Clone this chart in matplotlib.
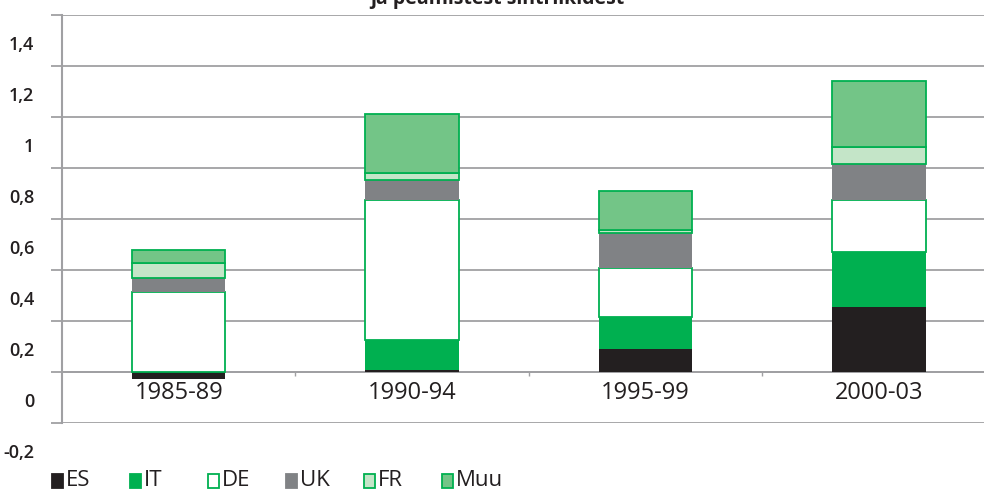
import numpy as np
import matplotlib
matplotlib.use("Agg")
import matplotlib.pyplot as plt
import matplotlib.transforms as mtransforms
from matplotlib.patches import Rectangle

plt.rcParams['font.family'] = ['Open Sans', 'DejaVu Sans']

# --- data ---
periods = ["1985-89", "1990-94", "1995-99", "2000-03"]
series = ["ES", "IT", "DE", "UK", "FR", "Muu"]
es = [-0.03, 0.005, 0.087, 0.254]
it = [0.0, 0.118, 0.126, 0.217]
de = [0.313, 0.549, 0.193, 0.202]
uk = [0.056, 0.080, 0.138, 0.141]
fr = [0.059, 0.026, 0.011, 0.069]
muu = [0.049, 0.232, 0.155, 0.258]
yticks = [-0.2, 0.0, 0.2, 0.4, 0.6, 0.8, 1.0, 1.2, 1.4]
ytick_labels = ["-0,2", "0", "0,2", "0,4", "0,6", "0,8", "1", "1,2", "1,4"]
title = "ja peamistest sihtriikidest"

values = [es, it, de, uk, fr, muu]
fills = ["#231f20", "#00b050", "#ffffff", "#808285", "#c4e5c8", "#73c587"]
edged = [False, False, True, False, True, True]
green_edge = "#00b050"
grid_col = "#a0a0a3"

fig = plt.figure(figsize=(9.84, 4.95), dpi=100)
ax = fig.add_axes([0.063, 0.1461, 0.949, 0.8242])

x = np.arange(len(periods))
pos_bottom = np.zeros(len(periods))
neg_bottom = np.zeros(len(periods))
for vals, fc, has_edge in zip(values, fills, edged):
    vals = np.array(vals)
    bottom = np.where(vals >= 0, pos_bottom, neg_bottom)
    ax.bar(x, vals, bottom=bottom, width=0.40, color=fc,
           edgecolor=green_edge if has_edge else fc,
           linewidth=1.3 if has_edge else 0.0, zorder=3)
    pos_bottom += np.where(vals >= 0, vals, 0)
    neg_bottom += np.where(vals < 0, vals, 0)

ax.set_xlim(-0.5, 3.5)
ax.set_ylim(-0.2, 1.4)
ax.set_axisbelow(True)

# y axis: gridlines, ticks, labels shifted down like the original
ax.set_yticks(yticks)
ax.set_yticklabels(ytick_labels, fontsize=13, fontweight='semibold', color="#231f20")
ax.yaxis.grid(True, color=grid_col, linewidth=1.3)
ax.tick_params(axis='y', length=8, width=1.3, color=grid_col, pad=12)
offset = mtransforms.ScaledTranslation(0, -0.28, fig.dpi_scale_trans)
for lab in ax.get_yticklabels():
    lab.set_transform(lab.get_transform() + offset)

# x axis on the zero line
ax.spines['bottom'].set_position(('data', 0))
ax.spines['bottom'].set_color(grid_col)
ax.spines['bottom'].set_linewidth(1.3)
ax.set_xticks(x)
ax.set_xticklabels(periods, fontsize=17, color="#231f20")
ax.set_xticks([0.5, 1.5, 2.5], minor=True)
ax.tick_params(axis='x', which='major', length=0, pad=7)
ax.tick_params(axis='x', which='minor', length=3, width=1, color=grid_col)

ax.spines['left'].set_color(grid_col)
ax.spines['left'].set_linewidth(1.5)
ax.spines['top'].set_visible(False)
ax.spines['right'].set_visible(False)

# legend, evenly spaced like the original
for i, (name, fc, has_edge) in enumerate(zip(series, fills, edged)):
    x0 = 52 + i * 78
    fig.patches.append(Rectangle((x0 / 984, 1 - 488 / 495), 11 / 984, 14 / 495,
                                 transform=fig.transFigure, facecolor=fc,
                                 edgecolor=green_edge if has_edge else fc,
                                 linewidth=1.3))
    fig.text((x0 + 14) / 984, 1 - 480 / 495, name, fontsize=16,
             color="#231f20", va='center', ha='left')

fig.text(497 / 984, 1 - 4 / 495, title, fontsize=14, fontweight='bold',
         color="#231f20", ha='center', va='baseline')

fig.savefig("out.png", dpi=100)
